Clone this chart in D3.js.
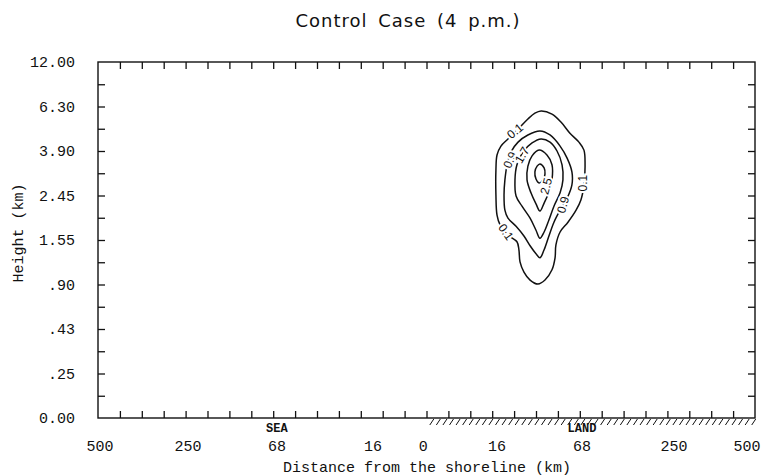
<!DOCTYPE html>
<html>
  <head>
    <meta charset="utf-8">
    <title>Control Case (4 p.m.)</title>
    <script src="https://d3js.org/d3.v7.min.js"></script>
    <style>
      body { margin: 0; background: #fff; }
      text { fill: #111; }
    </style>
  </head>
  <body>
    <script>

      // axis labels, positions are in grid units (x: 0..30, y: 0..8)
      var xLabels = ["500", "250", "68", "16", "0", "16", "68", "250", "500"];
      var xLabelPos = [0.09, 4.11, 8.17, 12.56, 14.85, 18.22, 22.10, 26.30, 29.63];
      var yLabels = ["0.00", ".25", ".43", ".90", "1.55", "2.45", "3.90", "6.30", "12.00"];
      var shoreline = 15;

      // contour lines, [x grid, y grid]
      var c01 = [[20.23,6.90],[20.73,6.83],[21.14,6.65],[21.55,6.40],[21.96,6.20],[22.19,6.02],[22.24,5.69],
                 [22.19,5.24],[22.05,4.90],[21.83,4.67],[21.46,4.40],[21.10,4.18],[20.91,3.89],[20.87,3.60],
                 [20.73,3.33],[20.41,3.10],[20.09,3.01],[19.73,3.10],[19.45,3.28],[19.27,3.51],[19.22,3.78],
                 [19.13,3.96],[18.72,4.11],[18.36,4.34],[18.22,4.56],[18.17,5.01],[18.17,5.57],[18.22,5.91],
                 [18.40,6.11],[18.72,6.27],[19.18,6.49],[19.63,6.72],[19.95,6.85]];
      var c09 = [[20.18,6.45],[20.64,6.36],[21.10,6.11],[21.42,5.84],[21.64,5.53],[21.64,5.24],[21.42,4.94],
                 [21.10,4.67],[20.82,4.40],[20.59,4.09],[20.37,3.78],[20.18,3.60],[20.00,3.69],[19.73,3.87],
                 [19.45,4.09],[19.09,4.31],[18.72,4.49],[18.58,4.67],[18.54,5.01],[18.58,5.35],[18.68,5.69],
                 [18.86,5.98],[19.18,6.20],[19.63,6.36]];
      var c17 = [[20.23,6.27],[20.64,6.20],[20.96,6.00],[21.19,5.69],[21.23,5.35],[21.10,5.06],[20.82,4.76],
                 [20.59,4.45],[20.37,4.18],[20.18,4.04],[20.00,4.22],[19.73,4.49],[19.36,4.76],[19.09,4.99],
                 [19.04,5.35],[19.13,5.69],[19.41,5.98],[19.82,6.18]];
      var c25 = [[20.14,6.02],[20.50,5.91],[20.73,5.69],[20.73,5.35],[20.59,5.08],[20.37,4.83],[20.18,4.65],
                 [20.00,4.81],[19.77,5.06],[19.59,5.35],[19.63,5.66],[19.82,5.89]];
      var c33 = [[20.18,5.71],[20.37,5.62],[20.41,5.48],[20.32,5.35],[20.14,5.28],[20.00,5.37],[19.95,5.53],
                 [20.05,5.66]];
      var contours = [c01, c09, c17, c25, c33];

      // contour labels: text, x, y, rotation
      var cLabelText = ["0.1", "0.9", "1.7", "2.5", "0.9", "0.1", "0.1"];
      var cLabelX = [19.04, 18.81, 19.36, 20.46, 21.23, 22.15, 18.63];
      var cLabelY = [6.45, 5.80, 5.91, 5.21, 4.79, 5.28, 4.18];
      var cLabelRot = [-40, -65, -60, -75, -75, -90, 55];

      var svg = d3.select("body").append("svg")
                  .attr("width", 762)
                  .attr("height", 476);

      var x = d3.scaleLinear().domain([0, 30]).range([98, 755]);
      var y = d3.scaleLinear().domain([0, 8]).range([418, 62]);

      var mono = "'Liberation Mono', 'Courier New', monospace";

      // ticks, all pointing inward
      var xt = d3.range(1, 30), yt = d3.range(0.5, 8, 0.5);
      var axes = [
        [d3.axisBottom(x).tickValues(xt), "translate(0,418)"],
        [d3.axisTop(x).tickValues(xt), "translate(0,62)"],
        [d3.axisLeft(y).tickValues(yt), "translate(98,0)"],
        [d3.axisRight(y).tickValues(yt), "translate(755,0)"]
      ];
      axes.forEach(function(a) {
        var g = svg.append("g").attr("transform", a[1])
                   .call(a[0].tickSize(-7).tickFormat(""));
        g.select(".domain").remove();
        g.selectAll("line").attr("stroke", "#111").attr("stroke-width", 1.3);
      });

      svg.append("rect")
         .attr("x", x(0)).attr("y", y(8))
         .attr("width", x(30) - x(0)).attr("height", y(0) - y(8))
         .attr("fill", "none").attr("stroke", "#111").attr("stroke-width", 1.4);

      // land hatching under the axis
      svg.append("g").selectAll("line")
         .data(d3.range(shoreline + 0.15, 30, 0.3))
         .enter().append("line")
         .attr("x1", function(d) { return x(d); })
         .attr("x2", function(d) { return x(d) + 4; })
         .attr("y1", y(0) + 7).attr("y2", y(0) + 1)
         .attr("stroke", "#111").attr("stroke-width", 1);

      // contours
      var line = d3.line()
                   .x(function(d) { return x(d[0]); })
                   .y(function(d) { return y(d[1]); })
                   .curve(d3.curveCatmullRomClosed.alpha(0.5));
      svg.append("g").selectAll("path")
         .data(contours)
         .enter().append("path")
         .attr("d", line)
         .attr("fill", "none")
         .attr("stroke", "#111")
         .attr("stroke-width", 1.5);

      svg.append("g").selectAll("text")
         .data(cLabelText)
         .enter().append("text")
         .attr("transform", function(d, i) {
           return "translate(" + x(cLabelX[i]) + "," + y(cLabelY[i]) + ") rotate(" + cLabelRot[i] + ")";
         })
         .attr("text-anchor", "middle")
         .attr("dy", "0.35em")
         .style("font-family", "'Liberation Sans', Arial, sans-serif")
         .style("font-size", "12px")
         .style("paint-order", "stroke")
         .style("stroke", "#fff")
         .style("stroke-width", 4)
         .text(function(d) { return d; });

      // tick labels
      svg.append("g").selectAll("text")
         .data(yLabels)
         .enter().append("text")
         .attr("x", 75)
         .attr("y", function(d, i) { return y(i); })
         .attr("dy", "0.35em")
         .attr("text-anchor", "end")
         .style("font-family", mono).style("font-size", "15px")
         .text(function(d) { return d; });

      svg.append("g").selectAll("text")
         .data(xLabels)
         .enter().append("text")
         .attr("x", function(d, i) { return x(xLabelPos[i]); })
         .attr("y", 451)
         .attr("text-anchor", "middle")
         .style("font-family", mono).style("font-size", "15px")
         .text(function(d) { return d; });

      svg.append("text").attr("x", x(8.17)).attr("y", 432)
         .attr("text-anchor", "middle")
         .style("font-family", mono).style("font-size", "12px").style("font-weight", "bold")
         .text("SEA");
      svg.append("text").attr("x", x(22.10)).attr("y", 432)
         .attr("text-anchor", "middle")
         .style("font-family", mono).style("font-size", "12px").style("font-weight", "bold")
         .text("LAND");

      // titles
      svg.append("text").attr("x", 408).attr("y", 27)
         .attr("text-anchor", "middle")
         .style("font-family", "'DejaVu Sans', sans-serif").style("font-size", "18px")
         .style("letter-spacing", "1px").style("word-spacing", "4px")
         .text("Control Case (4 p.m.)");

      svg.append("text").attr("x", 427).attr("y", 472)
         .attr("text-anchor", "middle")
         .style("font-family", mono).style("font-size", "15px")
         .text("Distance from the shoreline (km)");

      svg.append("text")
         .attr("transform", "translate(23,233) rotate(-90)")
         .attr("text-anchor", "middle")
         .style("font-family", mono).style("font-size", "15px")
         .text("Height (km)");

    </script>
  </body>
</html>
